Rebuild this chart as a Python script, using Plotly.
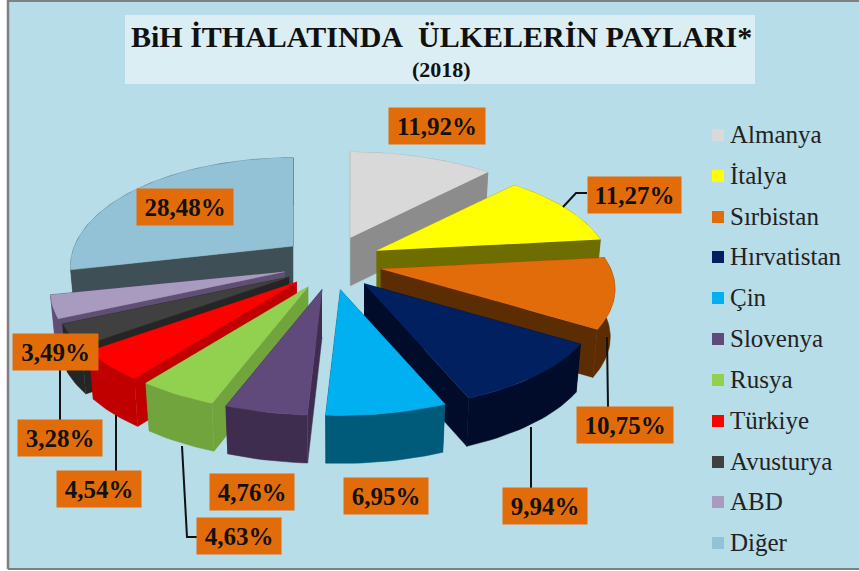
import math
import plotly.graph_objects as go

countries = ["Almanya", "İtalya", "Sırbistan", "Hırvatistan", "Çin", "Slovenya",
             "Rusya", "Türkiye", "Avusturya", "ABD", "Diğer"]
shares = [11.92, 11.27, 10.75, 9.94, 6.95, 4.76, 4.63, 4.54, 3.28, 3.49, 28.48]
top_colors = ["#D9D9D9", "#FFFF00", "#E36C0A", "#002060", "#00B0F0", "#604A7B",
              "#92D050", "#FF0000", "#404040", "#A99BC0", "#93C1D5"]
wall_colors = ["#8C8C8C", "#6E6E00", "#5C2C02", "#000C2A", "#005A7A", "#3F2D50",
               "#72A43E", "#C00000", "#252525", "#5F4F73", "#3F4F56"]
draw_order = ["Diğer", "ABD", "Avusturya", "Türkiye", "Rusya", "Slovenya",
              "Almanya", "İtalya", "Sırbistan", "Hırvatistan", "Çin"]

value_labels = ["11,92%", "11,27%", "10,75%", "9,94%", "6,95%", "4,76%",
                "4,63%", "4,54%", "3,28%", "3,49%", "28,48%"]
label_centers = [(437, 126), (634, 195), (625, 425), (545, 506), (386, 496), (252, 492),
                 (239, 536), (99, 489), (60, 438), (55, 352), (185, 207)]
label_widths = [96, 93, 96, 84, 84, 84, 84, 84, 84, 85, 96]
leaders = [
    [(563, 207), (576, 193), (587, 193)],
    [(607, 337), (608, 407)],
    [(531, 427), (531, 488)],
    [(182, 446), (187, 537), (197, 537)],
    [(116, 415), (116, 471)],
    [(60, 370), (60, 420)],
]
legend_y = [135, 176, 217, 257, 298, 339, 380, 421, 462, 502, 543]

BG = "#B7DDE8"
CX, CY, RX, RY = 332, 263, 230, 102
PULL_X, PULL_Y = 50, 27
PERSP = 0.189
DEPTH = 48
BOTTOM_SHRINK = 0.98
RIM_ADJUST = {"Diğer": (0.95, 1.03)}


def rim(theta):
    a, b = math.sin(theta), -math.cos(theta)
    s = 1 / (1 - PERSP * b)
    return RX * a * s, RY * b * s


fig = go.Figure()


def poly(xs, ys, color):
    fig.add_trace(go.Scatter(x=xs, y=ys, mode="lines", fill="toself", fillcolor=color,
                             line=dict(width=0.5, color=color), hoverinfo="skip",
                             showlegend=False))


total = sum(shares)
bounds = {}
acc = 0.0
for name, v in zip(countries, shares):
    bounds[name] = (acc / total * 2 * math.pi, (acc + v) / total * 2 * math.pi)
    acc += v

for name in draw_order:
    i = countries.index(name)
    t0, t1 = bounds[name]
    tm = (t0 + t1) / 2
    ax = CX + PULL_X * math.sin(tm)
    ay = CY - PULL_Y * math.cos(tm)
    n = max(6, int((t1 - t0) * 40))
    angles = [t0 + (t1 - t0) * k / n for k in range(n + 1)]
    fx, fy = RIM_ADJUST.get(name, (1, 1))
    pts = [(ax + fx * rim(t)[0], ay + fy * rim(t)[1]) for t in angles]
    low = [(ax + (p[0] - ax) * BOTTOM_SHRINK, p[1] + DEPTH) for p in pts]
    wall, top = wall_colors[i], top_colors[i]

    walls = []
    for p, q in ((pts[0], low[0]), (pts[-1], low[-1])):
        walls.append(([ax, p[0], q[0], ax], [ay, p[1], q[1], ay + DEPTH]))
    walls.append(([p[0] for p in pts] + [q[0] for q in reversed(low)],
                  [p[1] for p in pts] + [q[1] for q in reversed(low)]))
    for xs, ys in sorted(walls, key=lambda w: sum(w[1]) / len(w[1])):
        poly(xs, ys, wall)
    poly([ax] + [p[0] for p in pts], [ay] + [p[1] for p in pts], top)

for seg in leaders:
    fig.add_trace(go.Scatter(x=[p[0] for p in seg], y=[p[1] for p in seg], mode="lines",
                             line=dict(color="#111111", width=2), hoverinfo="skip",
                             showlegend=False))

fig.add_trace(go.Scatter(x=[718] * len(countries), y=legend_y, mode="markers",
                         marker=dict(symbol="square", size=12, color=top_colors),
                         hoverinfo="skip", showlegend=False))
fig.add_trace(go.Scatter(x=[730] * len(countries), y=[v + 2 for v in legend_y], mode="text",
                         text=countries, textposition="middle right",
                         textfont=dict(family="Liberation Serif", size=25, color="#222222"),
                         hoverinfo="skip", showlegend=False))

annotations = [
    dict(x=441, y=36, text="<b>BiH İTHALATINDA\u00a0\u00a0ÜLKELERİN PAYLARI*</b>", showarrow=False,
         font=dict(family="Liberation Serif", size=30, color="#111111")),
    dict(x=441, y=69, text="<b>(2018)</b>", showarrow=False,
         font=dict(family="Liberation Serif", size=22, color="#111111")),
]
for lab, (x, y), w in zip(value_labels, label_centers, label_widths):
    annotations.append(dict(x=x, y=y, text=f"<b>{lab}</b>", showarrow=False, width=w, height=36,
                            align="center", valign="middle", bgcolor="#E36C0A", borderpad=0,
                            font=dict(family="Liberation Serif", size=25, color="#111111")))

shapes = [
    dict(type="rect", layer="below", x0=8, x1=859, y0=1, y1=568, fillcolor=BG, line=dict(width=0)),
    dict(type="rect", layer="below", x0=125, x1=755, y0=15, y1=84, fillcolor="#DAEEF3", line=dict(width=0)),
    dict(type="line", layer="below", x0=8, x1=8, y0=0, y1=569, line=dict(color="#808080", width=2.5)),
    dict(type="line", layer="below", x0=8, x1=859, y0=1, y1=1, line=dict(color="#808080", width=2)),
    dict(type="line", layer="below", x0=8, x1=859, y0=569, y1=569, line=dict(color="#808080", width=2)),
]

fig.update_layout(
    width=859, height=571, margin=dict(l=0, r=0, t=0, b=0),
    paper_bgcolor="white", plot_bgcolor="white",
    xaxis=dict(range=[0, 859], visible=False, fixedrange=True),
    yaxis=dict(range=[571, 0], visible=False, fixedrange=True),
    annotations=annotations, shapes=shapes,
)
fig.write_html("out.html", config={"displayModeBar": False},
               post_script="document.body.style.margin='0';document.body.style.overflow='hidden';")
